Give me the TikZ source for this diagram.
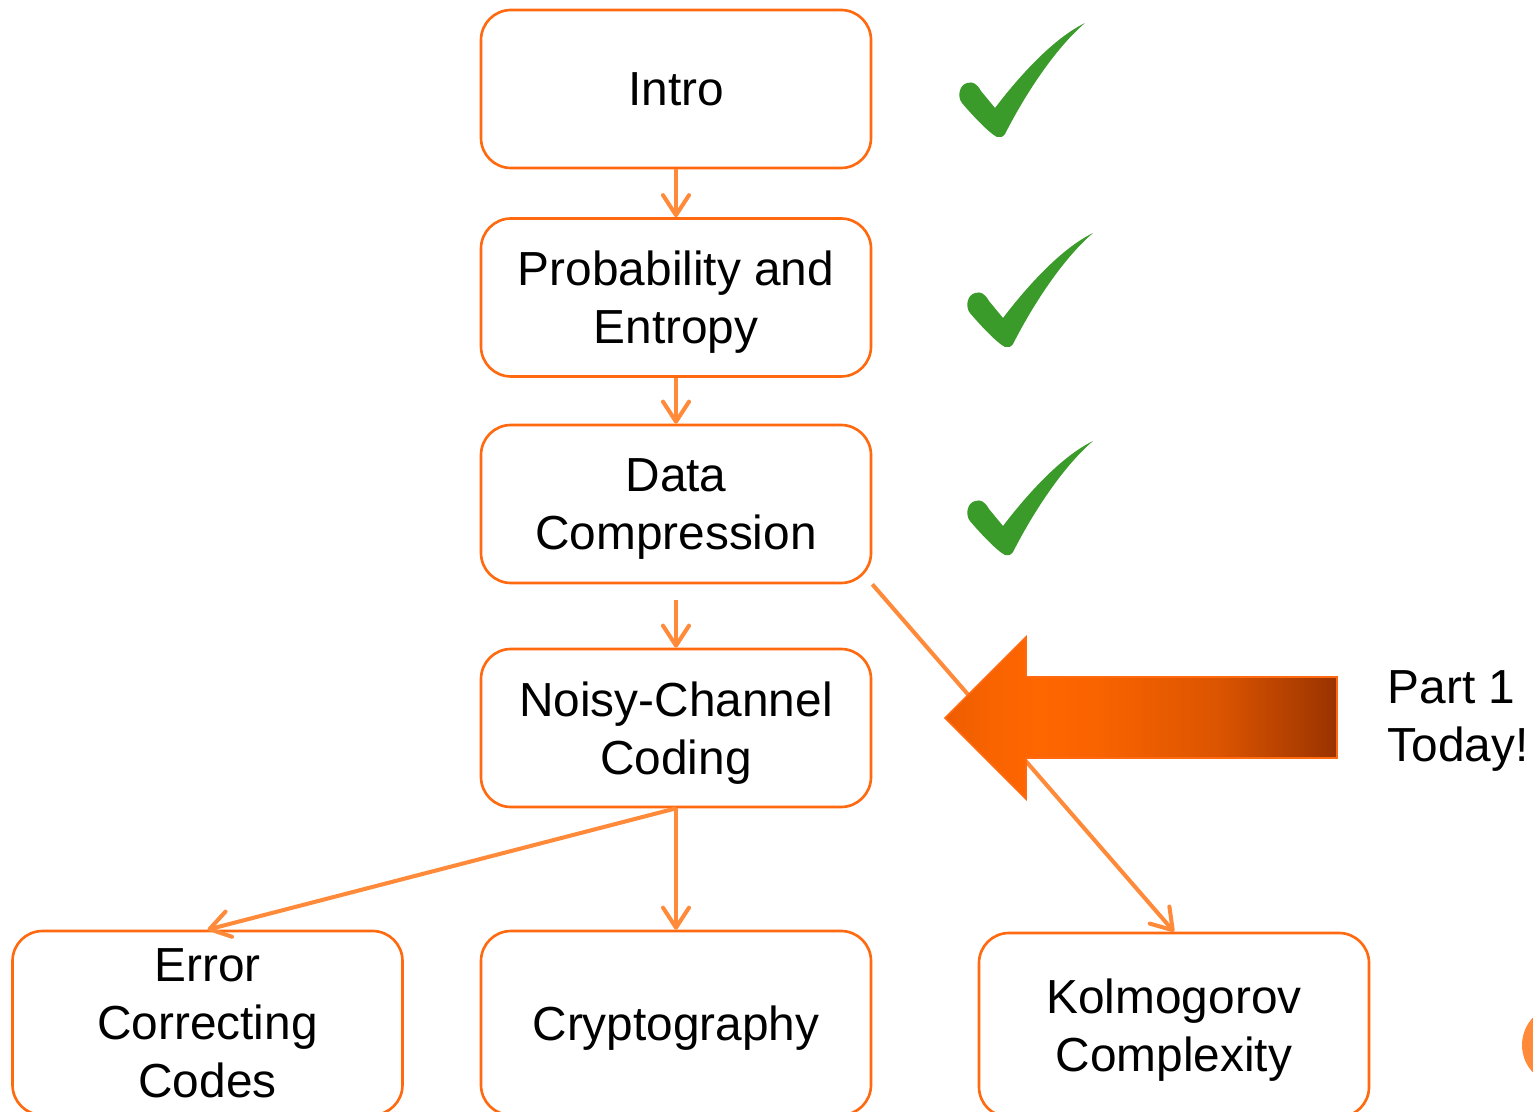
\documentclass[tikz,border=0pt]{standalone}
\usepackage{fontspec}
\setmainfont{Liberation Sans}
\usetikzlibrary{arrows.meta}
\definecolor{boxorange}{HTML}{FF6A10}
\definecolor{lineorange}{HTML}{FF8A3A}
\definecolor{hotorange}{HTML}{FF6600}
\definecolor{burnt}{HTML}{993300}
\definecolor{tickgreen}{HTML}{3A9A2A}
\pgfdeclarehorizontalshading{todayfade}{100bp}{color(0bp)=(hotorange!82!burnt); color(25bp)=(hotorange!82!burnt); color(31bp)=(hotorange!94!burnt); color(37bp)=(hotorange); color(45bp)=(hotorange!93!burnt); color(60bp)=(hotorange!65!burnt); color(75bp)=(burnt); color(100bp)=(burnt)}

\begin{document}
\begin{tikzpicture}[
	topic/.style={draw=boxorange,line width=.75pt,rounded corners=.3cm,
		minimum width=3.9cm,minimum height=1.58cm,inner sep=0pt,align=center,
		text depth=0pt,font=\fontsize{13.6}{16.4}\selectfont},
	flow/.style={draw=lineorange,line width=1.15pt,
		-{Straight Barb[length=.2cm,width=.26cm,round]}},
	pics/tick/.style={code={
		\fill[tickgreen,x=.01cm,y=.01cm] (0,0) .. controls (-8,4) and (-25,22) .. (-35,34)
		.. controls (-40,40) and (-38,52) .. (-30,54)
		.. controls (-24,56) and (-20,53) .. (-16,46) -- (-2,29)
		.. controls (20,58) and (55,98) .. (88,114)
		.. controls (62,92) and (32,50) .. (8,3)
		.. controls (6,0) and (3,-1) .. (0,0) -- cycle;}}]
	\useasboundingbox (0,0) rectangle (15.33,-11.12);
	\clip (0,0) rectangle (15.33,-11.12);
	% course outline
	\node (intro) at (6.76,-.89) [topic] {Intro};
	\node (prob) at (6.76,-2.975) [topic] {Probability and\\Entropy};
	\node (data) at (6.76,-5.04) [topic] {Data\\Compression};
	\node (noisy) at (6.76,-7.28) [topic] {Noisy-Channel\\Coding};
	\node (ecc) at (2.075,-10.23) [topic,minimum height=1.84cm] {Error\\Correcting\\Codes};
	\node (crypto) at (6.76,-10.23) [topic,minimum height=1.84cm] {Cryptography};
	\node (kolmo) at (11.74,-10.25) [topic,minimum height=1.84cm] {Kolmogorov\\Complexity};
	\coordinate (datagap) at (6.76,-6.0);
	\draw [flow] (intro) -- (prob);
	\draw [flow] (prob) -- (data);
	\draw [flow] (datagap) -- (noisy);
	\draw [flow] (noisy.south) -- (ecc.north);
	\draw [flow] (noisy.south) -- (crypto.north);
	\draw [flow] (data.south east) -- (kolmo.north);
	% done so far
	\pic at (9.97,-1.37) {tick};
	\pic at (10.05,-3.47) {tick};
	\pic at (10.05,-5.55) {tick};
	% where we are
	\path [shading=todayfade,draw=boxorange,line width=.5pt]
		(9.45,-7.18) -- (10.26,-6.37) -- (10.26,-6.77) -- (13.37,-6.77)
		-- (13.37,-7.58) -- (10.26,-7.58) -- (10.26,-7.99) -- cycle;
	\node (today) at (13.87,-7.21) [anchor=west,inner sep=0pt,align=left,
		font=\fontsize{13.6}{16.4}\selectfont] {Part 1\\Today!};
	\fill [lineorange] (15.62,-10.45) circle (.4);
\end{tikzpicture}
\end{document}
